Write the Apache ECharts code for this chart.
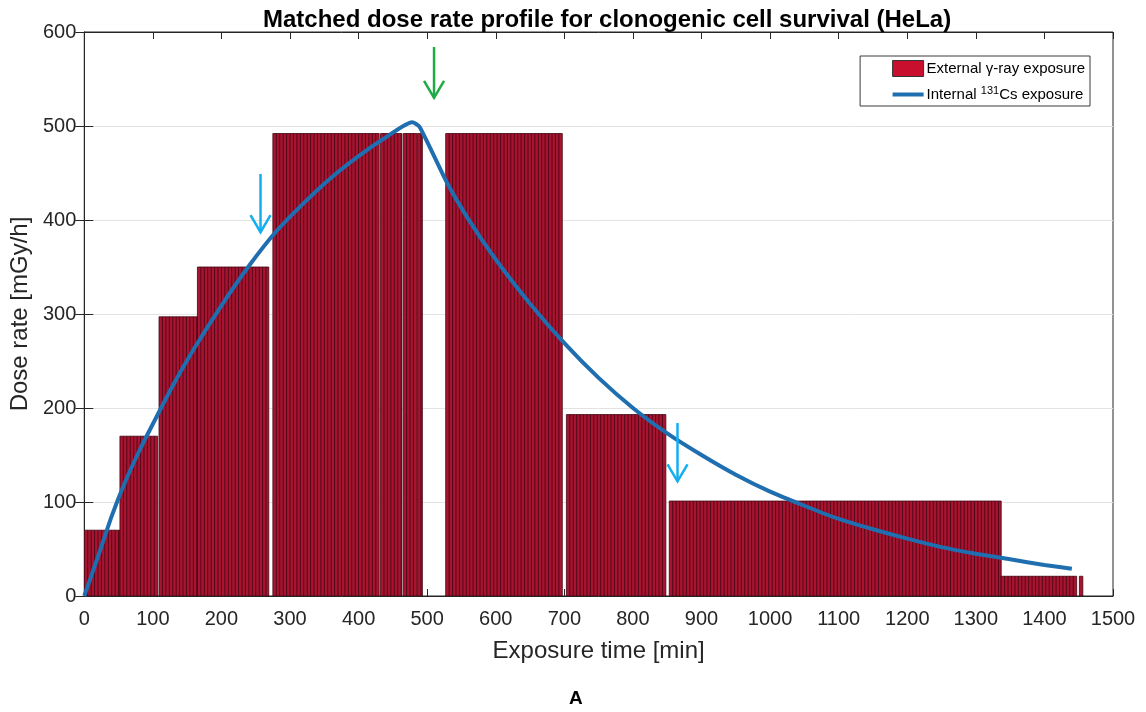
<!DOCTYPE html>
<html>
<head>
<meta charset="utf-8">
<script src="https://cdn.jsdelivr.net/npm/echarts@6/dist/echarts.min.js"></script>
<style>
  html, body { margin: 0; padding: 0; background: #fff; }
  #chart { width: 1146px; height: 712px; }
</style>
</head>
<body>
<div id="chart"></div>
<script>
// External gamma-ray exposure: irradiation blocks [start min, end min, dose rate mGy/h]
const blockStart = [0, 52, 109, 165, 275, 432, 465, 486, 527, 703, 853, 1337, 1451];
const blockEnd   = [52, 107, 165, 269, 430, 463, 485, 493, 697, 848, 1337, 1447, 1456];
const blockRate  = [70, 170, 297, 350, 492, 492, 492, 492, 492, 193, 101, 21, 21];
const binMinutes = 5; // bars are recorded in 5-minute bins

// Internal 131Cs exposure curve [min, mGy/h]
const cesiumTime = [0, 20, 40, 60, 80, 100, 130, 160, 200, 240, 280, 320, 360, 400, 440, 478, 489,
  528, 560, 600, 650, 700, 750, 800, 850, 900, 950, 1000, 1050, 1100, 1150, 1200, 1250, 1300, 1350, 1400, 1440];
const cesiumRate = [0, 42, 85, 122, 154, 183, 225, 263, 309, 351, 388, 418, 445, 468, 488, 504, 499,
  441, 401, 358, 311, 269, 232, 200, 173, 150, 129, 111, 96, 82, 71, 61, 52, 45, 39, 33, 29];

// Sampling time markers: [min, arrow top, arrow tip] in mGy/h, with colour key
const markerTime = [257, 510, 865];
const markerTop  = [449, 584, 184];
const markerTip  = [387, 530, 122];
const markerKind = ['cyan', 'green', 'cyan'];
const markerColors = { cyan: '#13aef0', green: '#1faa45' };

const xTicks = { min: 0, max: 1500, interval: 100 };
const yTicks = { min: 0, max: 600, interval: 100 };

const blocks = blockStart.map((s, i) => [s, blockEnd[i], blockRate[i]]);
const cesium = cesiumTime.map((t, i) => [t, cesiumRate[i]]);
const markers = markerTime.map((t, i) => [t, markerTop[i], markerTip[i], i]);

const FONT = 'Liberation Sans';
const AXIS_COLOR = '#262626';

function renderBlock(params, api) {
  const x0 = api.value(0), x1 = api.value(1), v = api.value(2);
  const tl = api.coord([x0, v]);
  const br = api.coord([x1, 0]);
  const children = [{
    type: 'rect',
    shape: { x: tl[0], y: tl[1], width: br[0] - tl[0], height: br[1] - tl[1] },
    style: { fill: '#a8132f', stroke: '#3d0612', lineWidth: 0.8 }
  }];
  for (let t = x0 + binMinutes; t < x1 - 0.5; t += binMinutes) {
    const px = api.coord([t, 0])[0];
    children.push({
      type: 'line',
      shape: { x1: px, y1: tl[1], x2: px, y2: br[1] },
      style: { stroke: '#4a0717', lineWidth: 0.9 }
    });
  }
  return { type: 'group', children };
}

function renderMarker(params, api) {
  const t = api.value(0);
  const top = api.coord([t, api.value(1)]);
  const tip = api.coord([t, api.value(2)]);
  const color = markerColors[markerKind[api.value(3)]];
  const style = { stroke: color, lineWidth: 2.5, fill: null };
  return {
    type: 'group',
    children: [
      { type: 'line', shape: { x1: top[0], y1: top[1], x2: tip[0], y2: tip[1] }, style },
      { type: 'polyline', shape: { points: [[tip[0] - 10, tip[1] - 17], [tip[0], tip[1]], [tip[0] + 10, tip[1] - 17]] }, style }
    ]
  };
}

const plainNumber = v => String(v);

const chart = echarts.init(document.getElementById('chart'));
chart.setOption({
  animation: false,
  backgroundColor: '#fff',
  title: [{
    text: 'Matched dose rate profile for clonogenic cell survival (HeLa)',
    left: 258,
    top: 3,
    textStyle: { fontFamily: FONT, fontSize: 24, fontWeight: 'bold', color: '#000' }
  }, {
    text: 'A',
    left: 564,
    top: 684,
    textStyle: { fontFamily: FONT, fontSize: 19, fontWeight: 'bold', color: '#000' }
  }],
  grid: {
    left: 83, right: 33, top: 32, bottom: 116,
    show: true, borderColor: AXIS_COLOR, borderWidth: 1, backgroundColor: 'transparent'
  },
  legend: {
    orient: 'vertical',
    right: 56,
    top: 56,
    itemWidth: 31,
    itemHeight: 16,
    itemGap: 8,
    padding: [4, 5, 4, 32],
    borderColor: '#3a3a3a',
    borderWidth: 1,
    backgroundColor: '#fff',
    selectedMode: false,
    textStyle: {
      fontFamily: FONT, fontSize: 15, color: '#000', padding: [0, 0, 0, -2],
      rich: { sup: { fontFamily: FONT, fontSize: 11, color: '#000', verticalAlign: 'bottom', padding: [0, 0, 8, 0] } }
    },
    formatter: name => name === 'Internal 131Cs exposure' ? 'Internal {sup|131}Cs exposure' : name,
    data: [
      { name: 'External γ-ray exposure', icon: 'rect', itemStyle: { color: '#c8102e', borderColor: '#333', borderWidth: 1 } },
      { name: 'Internal 131Cs exposure', icon: 'path://M0,0 H31 V4 H0 Z', itemStyle: { color: '#1f6eb0', borderWidth: 0 } }
    ]
  },
  xAxis: [{
    type: 'value',
    min: xTicks.min, max: xTicks.max, interval: xTicks.interval,
    name: 'Exposure time [min]',
    nameLocation: 'middle',
    nameGap: 43,
    nameTextStyle: { fontFamily: FONT, fontSize: 24, color: AXIS_COLOR },
    axisLine: { show: true, onZero: false, lineStyle: { color: AXIS_COLOR, width: 1 } },
    axisTick: { show: true, inside: true, length: 7, lineStyle: { color: AXIS_COLOR } },
    axisLabel: { fontFamily: FONT, fontSize: 20, color: AXIS_COLOR, margin: 13, formatter: plainNumber },
    splitLine: { show: false }
  }, {
    type: 'value', position: 'top',
    min: xTicks.min, max: xTicks.max, interval: xTicks.interval,
    axisLine: { show: true, onZero: false, lineStyle: { color: AXIS_COLOR, width: 1 } },
    axisTick: { show: true, inside: true, length: 7, lineStyle: { color: AXIS_COLOR } },
    axisLabel: { show: false },
    splitLine: { show: false }
  }],
  yAxis: [{
    type: 'value',
    min: yTicks.min, max: yTicks.max, interval: yTicks.interval,
    name: 'Dose rate [mGy/h]',
    nameLocation: 'middle',
    nameGap: 47,
    nameTextStyle: { fontFamily: FONT, fontSize: 24, color: AXIS_COLOR },
    axisLine: { show: true, lineStyle: { color: AXIS_COLOR, width: 1 } },
    axisTick: { show: true, inside: true, length: 9, lineStyle: { color: AXIS_COLOR } },
    axisLabel: { fontFamily: FONT, fontSize: 20, color: AXIS_COLOR, margin: 8, formatter: plainNumber },
    splitLine: { show: true, lineStyle: { color: '#e3e3e3', width: 1 } }
  }, {
    type: 'value', position: 'right',
    min: yTicks.min, max: yTicks.max, interval: yTicks.interval,
    axisLine: { show: true, lineStyle: { color: AXIS_COLOR, width: 1 } },
    axisTick: { show: true, inside: true, length: 9, lineStyle: { color: AXIS_COLOR } },
    axisLabel: { show: false },
    splitLine: { show: false }
  }],
  series: [{
    name: 'External γ-ray exposure',
    type: 'custom',
    renderItem: renderBlock,
    data: blocks,
    encode: { x: [0, 1], y: 2 },
    itemStyle: { color: '#c8102e' },
    clip: true,
    z: 2
  }, {
    name: 'Internal 131Cs exposure',
    type: 'line',
    data: cesium,
    symbol: 'none',
    smooth: 0.2,
    lineStyle: { color: '#1f6eb0', width: 4 },
    itemStyle: { color: '#1f6eb0' },
    z: 3
  }, {
    name: 'markers',
    type: 'custom',
    renderItem: renderMarker,
    data: markers,
    encode: { x: 0, y: [1, 2] },
    z: 4,
    silent: true
  }]
});
</script>
</body>
</html>
